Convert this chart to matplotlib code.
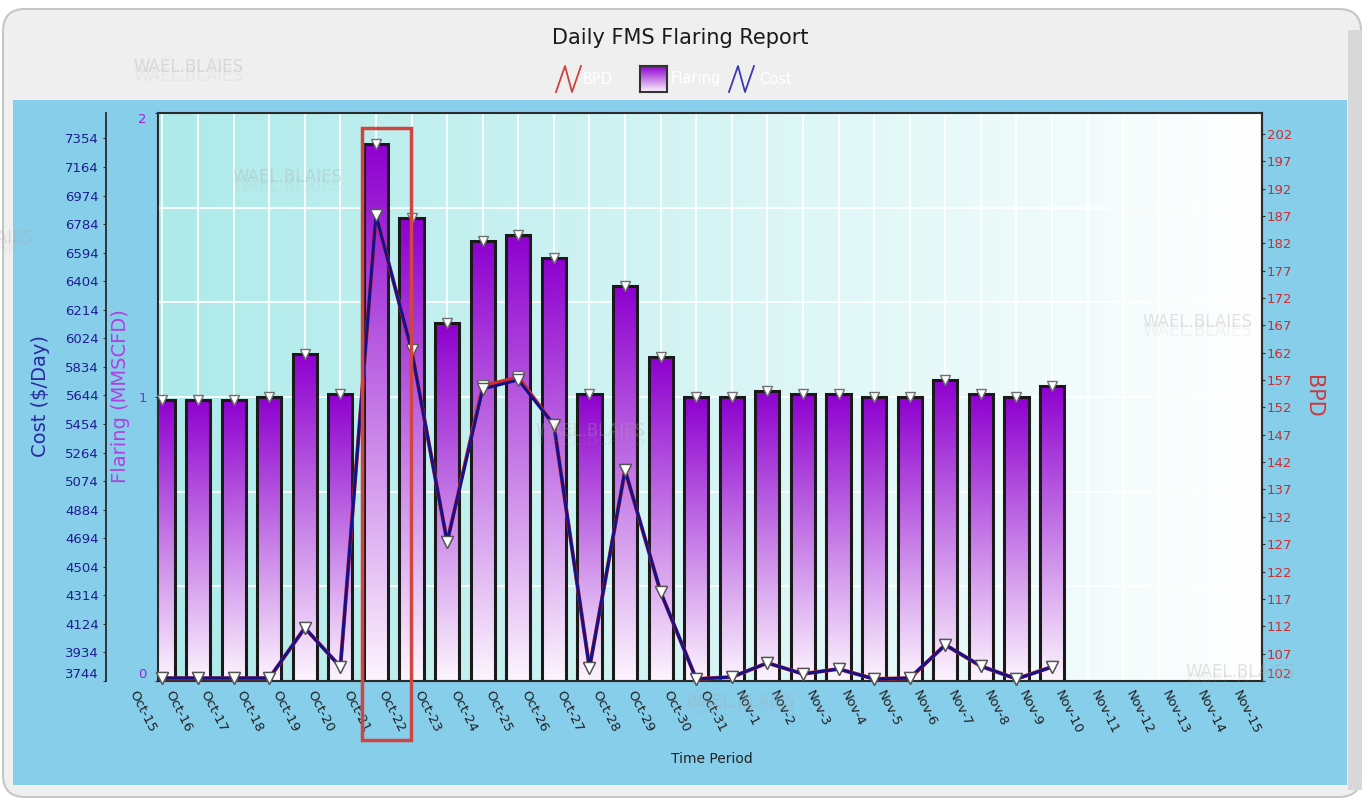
import numpy as np
import matplotlib
matplotlib.use("Agg")
import matplotlib.pyplot as plt
from matplotlib.colors import LinearSegmentedColormap
from matplotlib.patches import Rectangle, FancyBboxPatch
from matplotlib.lines import Line2D
from matplotlib.transforms import blended_transform_factory

plt.rcParams["font.family"] = ["DejaVu Sans"]

# category labels along the time axis
dates = (["Oct-{}".format(d) for d in range(15, 32)]
         + ["Nov-{}".format(d) for d in range(1, 16)])

# data runs Oct-16 .. Nov-10 (positions 1..26 on the category axis)
data_pos = list(range(1, 27))
flaring = [0.99, 0.99, 0.99, 1.00, 1.15, 1.01, 1.89, 1.63, 1.26, 1.55, 1.57,
           1.49, 1.01, 1.39, 1.14, 1.00, 1.00, 1.02, 1.01, 1.01, 1.00, 1.00,
           1.06, 1.01, 1.00, 1.04]
cost = [3764, 3764, 3764, 3764, 4097, 3837, 6845, 5946, 4669, 5687, 5747,
        5448, 3830, 5148, 4336, 3757, 3771, 3864, 3791, 3824, 3757, 3764,
        3984, 3844, 3757, 3837]
bpd = [102.5, 102.5, 102.5, 102.5, 111.7, 104.6, 187.1, 162.5, 127.4, 155.9,
       157.5, 148.8, 104.4, 140.5, 118.2, 102.4, 102.7, 105.3, 103.3, 104.2,
       102.4, 102.5, 108.6, 104.7, 102.4, 104.6]

cost_ticks = list(range(3744, 7355, 190))
bpd_ticks = list(range(102, 203, 5))
flaring_ticks = [0, 1, 2]

W, H = 1368, 801


def fx(px):
    return px / W


def fy(py):
    return 1 - py / H


def inch(px, py):
    return px / 100.0, (H - py) / 100.0


fig = plt.figure(figsize=(W / 100, H / 100), dpi=100)
fig.patch.set_facecolor("white")

# outer frame / backgrounds
frame = FancyBboxPatch(inch(3, 797), 13.58, 7.88,
                       boxstyle="round,pad=0,rounding_size=0.22",
                       fc="#efefef", ec="#c6c6c6", lw=1.5,
                       transform=fig.dpi_scale_trans, zorder=-10)
fig.add_artist(frame)
fig.add_artist(Rectangle(inch(13, 785), 13.34, 6.85, fc="#87ceeb", ec="none",
                         transform=fig.dpi_scale_trans, zorder=-9))
fig.add_artist(Rectangle(inch(1348, 790), 0.14, 7.6, fc="#d8d8d8", ec="none",
                         transform=fig.dpi_scale_trans, zorder=-9))

ax = fig.add_axes([fx(158), fy(681), (1262 - 158) / W, (681 - 113) / H])

# plot area gradient
bg_cmap = LinearSegmentedColormap.from_list("bg", ["#aeeaea", "#ffffff"])
ax.imshow(np.linspace(0, 1, 256).reshape(1, -1), cmap=bg_cmap,
          extent=[0, 1, 0, 1], transform=ax.transAxes, aspect="auto", zorder=0)

# gradient bars
bar_cmap = LinearSegmentedColormap.from_list("bar", ["#fdf5fe", "#8e00cf"])
bw = 0.68
grad = np.linspace(0, 1, 256).reshape(-1, 1)
for xi, hi in zip(data_pos, flaring):
    ax.imshow(grad, cmap=bar_cmap, extent=[xi - bw / 2, xi + bw / 2, 0, hi],
              origin="lower", aspect="auto", zorder=2, interpolation="bicubic")
ax.bar(data_pos, flaring, bw, facecolor="none", edgecolor="#1a1a1a",
       linewidth=2.2, zorder=2.5)
ax.plot(data_pos, flaring, "v", ms=7, mfc="white", mec="#707070", mew=1,
        zorder=3, clip_on=False)

ax.set_xlim(0.874, 31.9)
ax.set_ylim(0, 2)
ax.set_xticks(range(1, 32))
ax.set_xticklabels([])
ax.tick_params(axis="x", length=0)
ax.set_yticks(flaring_ticks)
ax.set_yticks([1 / 3, 2 / 3, 4 / 3, 5 / 3], minor=True)
ax.set_axisbelow(True)
ax.grid(True, which="both", color="white", lw=1.3)
ax.tick_params(axis="y", which="minor", length=0)
ax.tick_params(axis="y", which="major", labelcolor="#a020e0", labelsize=9.5,
               length=2, pad=6, color="#333333")
ylabs = ax.get_yticklabels()
ylabs[0].set_va("bottom")
ylabs[-1].set_va("top")
for s in ax.spines.values():
    s.set_color("#2a2a2a")
    s.set_linewidth(1.5)

# BPD axis (right)
ax_bpd = ax.twinx()
ax_bpd.plot(data_pos, bpd, color="#d42a2a", lw=2.8, marker="v", ms=8,
            mfc="white", mec="#666666", mew=1, clip_on=False)
ax_bpd.set_ylim(102, 205.8)
ax_bpd.set_yticks(bpd_ticks)
ax_bpd.tick_params(axis="y", labelcolor="#cc2e2e", labelsize=9.5, length=2,
                   pad=1.5, color="#333333")
blabs = ax_bpd.get_yticklabels()
blabs[0].set_va("bottom")
for k in ["left", "top", "bottom"]:
    ax_bpd.spines[k].set_visible(False)
ax_bpd.spines["right"].set_color("#2a2a2a")
ax_bpd.spines["right"].set_linewidth(1.5)

# Cost axis (outer left)
ax_cost = ax.twinx()
ax_cost.plot(data_pos, cost, color="#12128a", lw=2.2, marker="v", ms=8,
             mfc="white", mec="#555555", mew=1, clip_on=False)
ax_cost.set_ylim(3744, 7523)
ax_cost.yaxis.set_ticks_position("left")
ax_cost.spines["left"].set_position(("outward", 37.4))
for k in ["right", "top", "bottom"]:
    ax_cost.spines[k].set_visible(False)
ax_cost.spines["left"].set_visible(True)
ax_cost.spines["left"].set_color("#2a2a2a")
ax_cost.spines["left"].set_linewidth(1.3)
ax_cost.set_yticks(cost_ticks)
ax_cost.tick_params(axis="y", labelcolor="#1e1e8c", labelsize=9.5, length=2,
                    pad=3, color="#333333")
clabs = ax_cost.get_yticklabels()
clabs[0].set_va("bottom")

# category labels
trans = blended_transform_factory(ax.transData, ax.transAxes)
for i, d in enumerate(dates):
    ax.text(i, -0.0125, d, rotation=-63, ha="left", va="top", fontsize=9.5,
            color="#202020", transform=trans, clip_on=False)

# axis titles
fig.text(fx(40), fy(396), "Cost ($/Day)", rotation=90, fontsize=14,
         color="#2a2aa0", ha="center", va="center")
fig.text(fx(121), fy(396), "Flaring (MMSCFD)", rotation=90, fontsize=14,
         color="#b040e0", ha="center", va="center")
fig.text(fx(1313), fy(396), "BPD", rotation=270, fontsize=15,
         color="#d03838", ha="center", va="center")
fig.text(fx(712), fy(759), "Time Period", fontsize=10, color="#222222",
         ha="center", va="center")
fig.text(fx(680), fy(38), "Daily FMS Flaring Report", fontsize=15,
         color="#1a1a1a", ha="center", va="center")

# legend
def zigzag(x0, color):
    xs = [x0, x0 + 9, x0 + 16, x0 + 25]
    ys = [92, 66, 92, 66]
    pts = [inch(a, b) for a, b in zip(xs, ys)]
    fig.add_artist(Line2D([p[0] for p in pts], [p[1] for p in pts],
                          color=color, lw=1.3, transform=fig.dpi_scale_trans))


zigzag(556, "#d04040")
zigzag(729, "#3a3ab0")
lax = fig.add_axes([fx(640), fy(92), 27 / W, 26 / H])
lax.imshow(grad, cmap=bar_cmap, origin="lower", aspect="auto")
lax.set_xticks([])
lax.set_yticks([])
for s in lax.spines.values():
    s.set_color("#333333")
    s.set_linewidth(1.5)
for tx, lbl in [(583, "BPD"), (671, "Flaring"), (759, "Cost")]:
    fig.text(fx(tx), fy(79), lbl, fontsize=10.5, color="white",
             ha="left", va="center")

# watermarks
for wx, wy in [(188, 67), (287, 177), (-22, 238), (590, 431), (1197, 322),
               (1240, 672), (740, 702)]:
    fig.text(fx(wx), fy(wy), "WAEL.BLAIES", fontsize=12, color="#a8a8a8",
             alpha=0.32, ha="center", va="center")
    fig.text(fx(wx), fy(wy + 9), "WAEL.BLAIES", fontsize=12, color="#a8a8a8",
             alpha=0.12, ha="center", va="center")

# highlight box
fig.add_artist(Rectangle(inch(362, 740), 0.49, 6.12, fill=False,
                         ec="#d0453f", lw=2.5, transform=fig.dpi_scale_trans,
                         zorder=10))

fig.savefig("out.png", dpi=100)
